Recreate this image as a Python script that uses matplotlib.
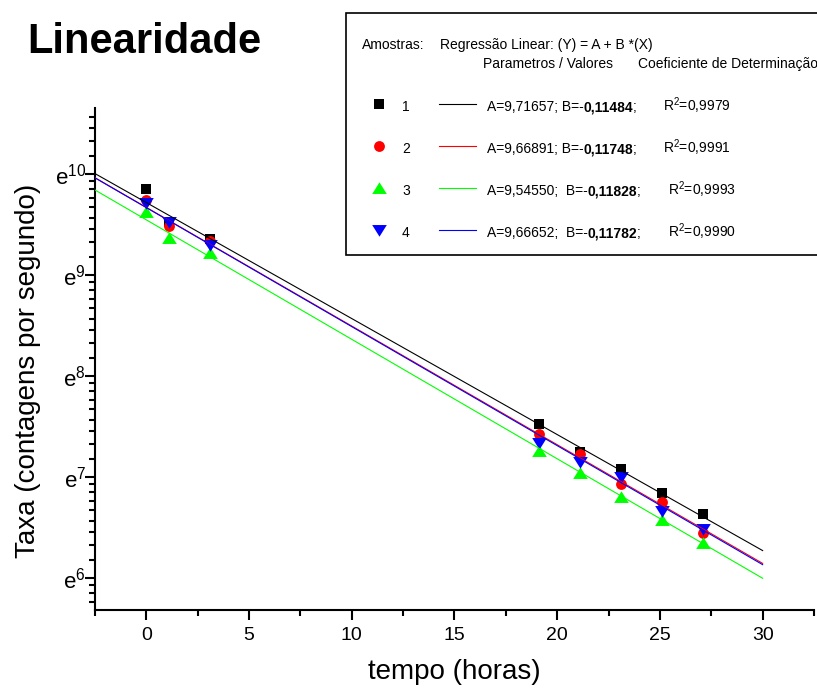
import numpy as np
import matplotlib.pyplot as plt
from matplotlib.ticker import FixedLocator, MultipleLocator, FuncFormatter, NullFormatter
from matplotlib.patches import Rectangle

plt.rcParams.update({'font.family': ['Liberation Sans', 'DejaVu Sans'],
                     'mathtext.default': 'regular'})

tempo = [0, 1.08, 3.1, 19.1, 21.1, 23.1, 25.1, 27.1]
ln_taxa_1 = [9.85, 9.52, 9.36, 7.525, 7.25, 7.08, 6.84, 6.63]
ln_taxa_2 = [9.74, 9.485, 9.34, 7.426, 7.228, 6.93, 6.755, 6.45]
ln_taxa_3 = [9.62, 9.37, 9.22, 7.26, 7.04, 6.805, 6.57, 6.35]
ln_taxa_4 = [9.71, 9.52, 9.30, 7.34, 7.15, 7.00, 6.66, 6.485]

# Linear regression ln(Y) = A + B*X for each sample
amostras = ['1', '2', '3', '4']
coef_A = [9.71657, 9.66891, 9.54550, 9.66652]
coef_B = [-0.11484, -0.11748, -0.11828, -0.11782]
r2_txt = ['0,9979', '0,9991', '0,9993', '0,9990']
fit_range = [-2.5, 30]

series = [ln_taxa_1, ln_taxa_2, ln_taxa_3, ln_taxa_4]
colors = ['black', '#ff0000', '#00ff00', '#0000ff']
tri_up = [(-1, -0.75), (1, -0.75), (0, 0.85)]
tri_down = [(-1, 0.75), (1, 0.75), (0, -0.85)]
markers = ['s', 'o', tri_up, tri_down]
msizes = [7.2, 7.8, 10.5, 10.5]

fig = plt.figure(figsize=(8.17, 6.9), dpi=100)
ax = fig.add_axes([95/817, 80/690, 719/817, 502/690])

# data points
for ln_y, c, m, s in zip(series, colors, markers, msizes):
    ax.plot(tempo, np.exp(ln_y), ls='none', marker=m, ms=s, color=c, mec=c, mew=0, zorder=2)

# regression lines
xfit = np.array(fit_range)
for a, b, c in zip(coef_A, coef_B, colors):
    ax.plot(xfit, np.exp(a + b * xfit), color=c, lw=0.8, zorder=3)

ax.set_yscale('log', base=np.e)
ax.set_ylim(np.exp(5.683), np.exp(10.653))
ax.set_xlim(-2.5, 32.5)

# e^n major ticks, linear subdivisions as minor ticks
ax.yaxis.set_major_locator(FixedLocator([np.exp(n) for n in range(6, 11)]))
ax.yaxis.set_major_formatter(FuncFormatter(lambda v, p: r'e$^{%d}$' % round(np.log(v))))
minor_y = [np.exp(n) + k * (np.exp(n + 1) - np.exp(n)) / 9 for n in range(5, 11) for k in range(1, 9)]
ax.yaxis.set_minor_locator(FixedLocator(minor_y))
ax.yaxis.set_minor_formatter(NullFormatter())
ax.xaxis.set_major_locator(MultipleLocator(5))
ax.xaxis.set_minor_locator(MultipleLocator(2.5))

for side in ['top', 'right']:
    ax.spines[side].set_visible(False)
for side in ['left', 'bottom']:
    ax.spines[side].set_linewidth(1.5)
ax.tick_params(which='major', direction='out', length=7.5, width=1.5)
ax.tick_params(which='minor', direction='out', length=4.5, width=1.5)
ax.tick_params(axis='x', labelsize=14, pad=5)
ax.tick_params(axis='y', labelsize=16, pad=-1)

fig.text(454/817, 1 - 672/690, 'tempo (horas)', ha='center', va='center', fontsize=20)
fig.text(28/817, 1 - 371/690, 'Taxa (contagens por segundo)', rotation=90,
         ha='center', va='center', fontsize=20)
fig.text(27/817, 1 - 53/690, 'Linearidade', fontsize=30, fontweight='bold', va='baseline')

# Legend box drawn in pixel coordinates on an overlay axes
lax = fig.add_axes([0, 0, 1, 1], zorder=5)
lax.set_xlim(0, 817)
lax.set_ylim(690, 0)
lax.axis('off')
lax.add_patch(Rectangle((346, 13), 520, 242, fc='white', ec='black', lw=1.2))

fs = 10
lax.text(362, 49, 'Amostras:', fontsize=fs)
lax.text(440, 49, 'Regressão Linear: (Y) = A + B *(X)', fontsize=fs)
lax.text(483, 68, 'Parametros / Valores', fontsize=fs)
lax.text(638, 68, 'Coeficiente de Determinação', fontsize=fs)

for i in range(4):
    yb = 111 + 42 * i
    lax.plot(379, yb - 7, ls='none', marker=markers[i], ms=msizes[i], color=colors[i], mew=0)
    lax.text(402, yb, amostras[i], fontsize=fs)
    lax.plot([439, 476], [yb - 7, yb - 7], color=colors[i], lw=0.8)
    gap = ' ' if i < 2 else '  '
    a_txt = ('%.5f' % coef_A[i]).replace('.', ',')
    b_txt = ('%.5f' % -coef_B[i]).replace('.', ',')
    t1 = lax.text(487, yb, 'A=' + a_txt + ';' + gap + 'B=-', fontsize=fs)
    t2 = lax.annotate(b_txt, xy=(1, 0), xycoords=t1, xytext=(0, 0), textcoords='offset points',
                      va='bottom', fontsize=fs, fontweight='bold')
    lax.annotate(';', xy=(1, 0), xycoords=t2, xytext=(-0.3, 0), textcoords='offset points',
                 va='bottom', fontsize=fs)
    lax.text(663 if i < 2 else 668, yb, r'R$^2$=' + r2_txt[i], fontsize=fs)

plt.savefig('out.png', dpi=100)
